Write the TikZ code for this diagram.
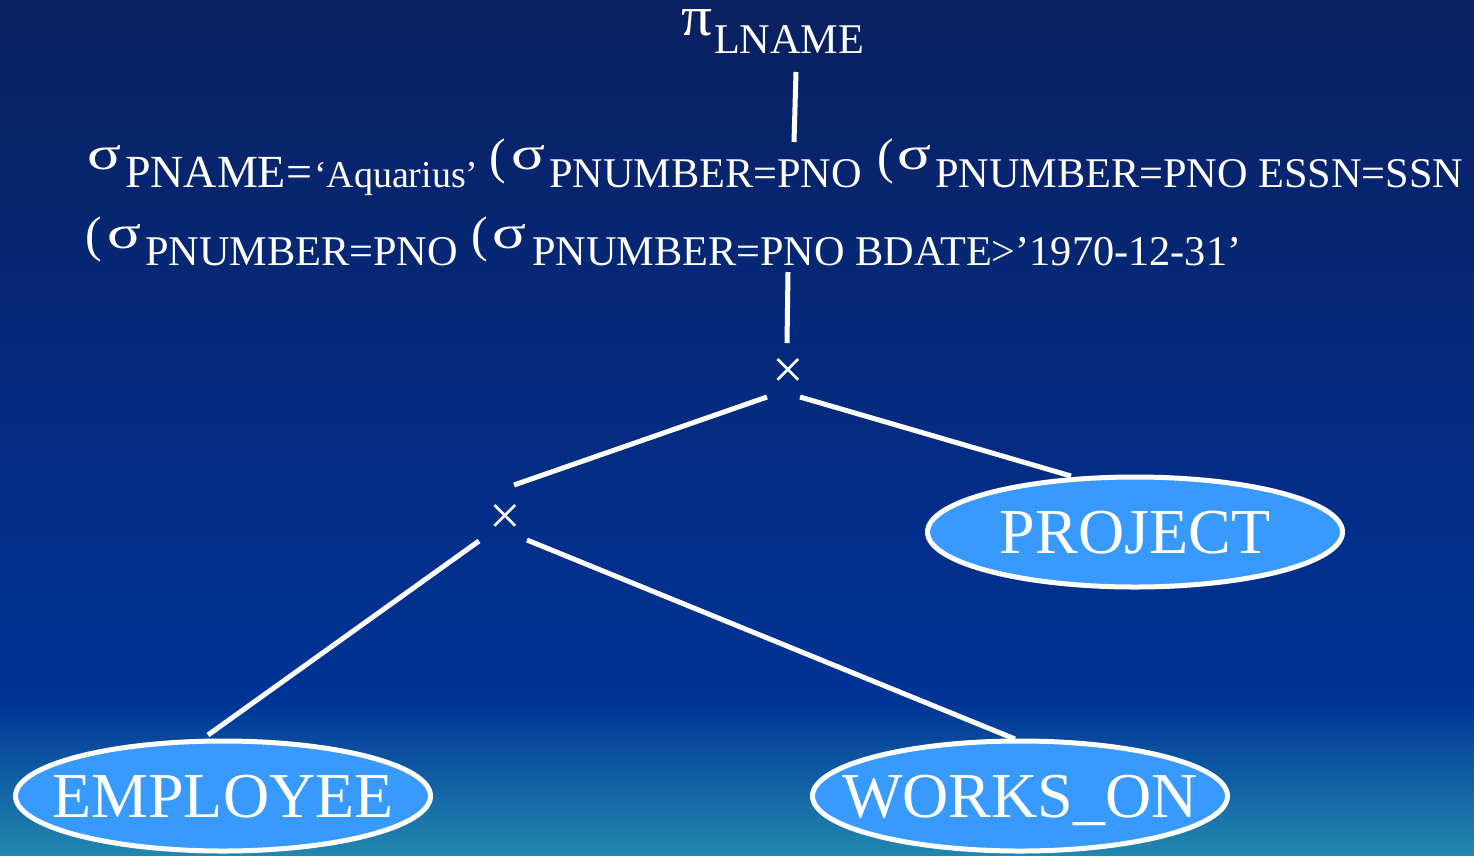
\documentclass[tikz,border=0pt]{standalone}
\usepackage{fontspec}
\setmainfont{Liberation Serif}
\newfontfamily\tnr{Liberation Serif}
\usetikzlibrary{calc}
\definecolor{bgtop}{RGB}{10,32,96}
\definecolor{bgmid}{RGB}{0,51,150}
\definecolor{bgbot}{RGB}{34,136,176}
\definecolor{relfill}{RGB}{56,154,255}
\newcommand\sig{\resizebox{34pt}{24pt}{σ}}
\begin{document}
\begin{tikzpicture}[x=1pt,y=-1pt,
  txt/.style={text=white, inner sep=0pt, outer sep=0pt, anchor=base west},
  big/.style={txt, font=\tnr\fontsize{50}{50}\selectfont},
  sub/.style={txt, font=\tnr\fontsize{42.3}{42}\selectfont},
  edge/.style={draw=white, line width=5pt},
  relshape/.style={draw=white, line width=5pt, fill=relfill},
  reltext/.style={text=white, inner sep=0pt, text height=42pt, text depth=0pt,
    font=\tnr\fontsize{64}{64}\selectfont},
  op/.style={text=white, inner sep=0pt, text height=32pt, text depth=0pt,
    font=\tnr\fontsize{56}{56}\selectfont}]

% canvas and background
\useasboundingbox (0,0) rectangle (1474,855);
\fill[top color=bgtop, bottom color=bgmid] (0,0) rectangle (1474,701);
\fill[top color=bgmid, bottom color=bgbot] (0,700) rectangle (1474,855);

% projection
\node[txt, text height=26pt] (pi) at (681,35) {\resizebox{31pt}{26pt}{π}};
\node[sub] (lname) at (714,53) {LNAME};

% selection expression, line 1
\node[txt] (s1) at (87,169) {\sig};
\node[txt, font=\tnr\fontsize{46}{46}\selectfont] (c1) at (125,187) {PNAME=};
\node[txt, font=\tnr\fontsize{38}{38}\selectfont] (c1b) at (314,187) {‘Aquarius’};
\node[big] (p2) at (489,173) {(};
\node[txt] (s2) at (511,169) {\sig};
\node[sub] (c2) at (549,187) {PNUMBER=PNO};
\node[big] (p3) at (877,173) {(};
\node[txt] (s3) at (897,169) {\sig};
\node[sub] (c3) at (935,187) {PNUMBER=PNO ESSN=SSN};

% selection expression, line 2
\node[big] (p4) at (85,251) {(};
\node[txt] (s4) at (107,248) {\sig};
\node[sub] (c4) at (145,265) {PNUMBER=PNO};
\node[big] (p5) at (471,251) {(};
\node[txt] (s5) at (492,248) {\sig};
\node[sub] (c5) at (532,265) {PNUMBER=PNO BDATE>’1970-12-31’};

% products
\node[op] (x1) at (788,372) {×};
\node[op] (x2) at (505,518) {×};

% relations
\path[relshape] (1135,532) ellipse [x radius=207.5, y radius=55];
\path[relshape] (223,796) ellipse [x radius=207.5, y radius=55];
\path[relshape] (1020,796) ellipse [x radius=207.5, y radius=55];
\node[reltext] (proj) at (1135,532) {\makebox[0pt]{PROJECT}};
\node[reltext] (emp) at (223,796) {\makebox[0pt]{EMPLOYEE}};
\node[reltext] (works) at (1020,796) {\makebox[0pt]{WORKS\_ON}};

% tree edges
\coordinate (pifoot) at (796,72);
\coordinate (seltop) at (794,142);
\coordinate (selfoot) at (788,272);
\draw[edge] (pifoot) -- (seltop);
\draw[edge] (selfoot) -- ($(x1)+(-1,-29)$);
\draw[edge] ($(x1)+(-21,25)$) -- ($(x2)+(9,-33)$);
\draw[edge] ($(x1)+(12,25)$) -- ($(proj)+(-64,-56)$);
\draw[edge] ($(x2)+(-26,23)$) -- ($(emp)+(-15,-61)$);
\draw[edge] ($(x2)+(22,22)$) -- ($(works)+(-5,-57)$);
\end{tikzpicture}
\end{document}
